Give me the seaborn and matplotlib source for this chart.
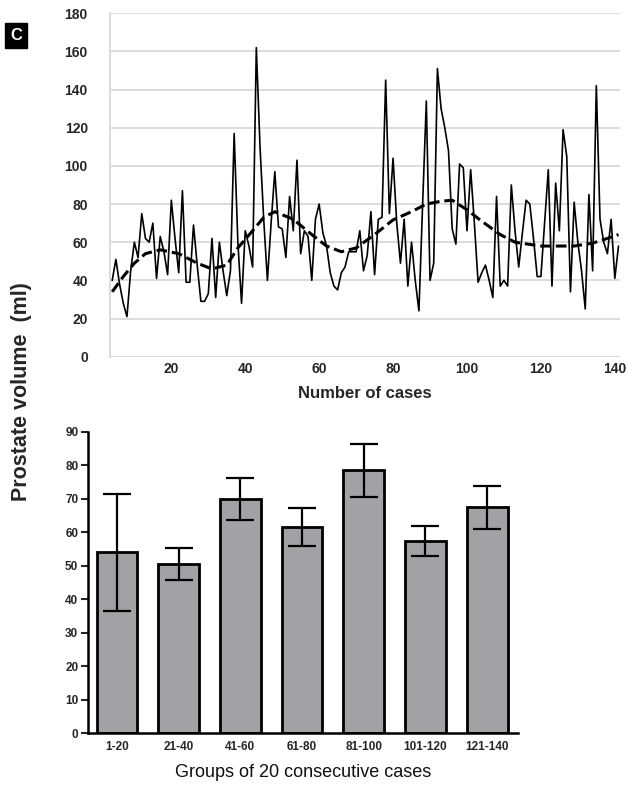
import numpy as np
import pandas as pd
import matplotlib
matplotlib.use('Agg')
import matplotlib.pyplot as plt
import seaborn as sns

# %%
# Dados
casos = list(range(4, 142))
volume = [40, 51, 38, 28, 21, 45, 60, 52, 75, 62, 60, 70, 41, 63, 55, 43, 82, 62, 44, 87,
          39, 39, 69, 48, 29, 29, 33, 62, 31, 60, 45, 32, 45, 117, 60, 28, 66, 58, 47, 162,
          110, 72, 40, 70, 97, 68, 67, 52, 84, 66, 103, 54, 66, 63, 40, 72, 80, 65, 58, 44,
          37, 35, 44, 47, 55, 55, 55, 66, 45, 53, 76, 43, 72, 73, 145, 75, 104, 70, 49, 72,
          37, 60, 40, 24, 80, 134, 40, 49, 151, 130, 120, 108, 67, 59, 101, 99, 66, 98, 70, 39,
          44, 48, 40, 31, 84, 37, 40, 37, 90, 66, 47, 65, 82, 80, 62, 42, 42, 70, 98, 37,
          91, 66, 119, 105, 34, 81, 60, 45, 25, 85, 45, 142, 72, 60, 54, 72, 41, 58]

trend_casos = [4, 7, 10, 13, 17, 22, 27, 31, 35, 38, 42, 45, 48, 53, 58, 62, 66, 70, 75, 80,
               85, 89, 93, 96, 100, 104, 109, 113, 120, 129, 134, 138, 141]
trend_vol = [34, 42, 49, 54, 56, 54, 49, 46, 48, 57, 66, 73, 76, 72, 64, 58, 55, 57, 64, 71.7,
             76, 80, 81.5, 82, 77, 71, 64, 60, 58, 58, 59.5, 62, 64]

grupos = ['1-20', '21-40', '41-60', '61-80', '81-100', '101-120', '121-140']
media = [54, 50.5, 70, 61.5, 78.5, 57.5, 67.5]
erro = [17.5, 4.7, 6.2, 5.7, 8, 4.5, 6.5]

df = pd.DataFrame({'caso': casos, 'volume': volume})
df_trend = pd.DataFrame({'caso': trend_casos, 'volume': trend_vol})
df_bar = pd.DataFrame({'grupo': grupos, 'media': media})

# %%
sns.set_style('white')
plt.rcParams['font.family'] = ['Liberation Sans', 'DejaVu Sans']

fig = plt.figure(figsize=(6.27, 7.87), dpi=100)
ax1 = fig.add_axes([0.1754, 0.5468, 0.8134, 0.4363])
ax2 = fig.add_axes([0.1404, 0.0686, 0.6858, 0.3825])

# Gráfico de linha
sns.lineplot(df, x='caso', y='volume', color='black', lw=1.2, ax=ax1)
sns.lineplot(df_trend, x='caso', y='volume', color='black', lw=2.2,
             linestyle=(0, (3.5, 1.6)), ax=ax1)
ax1.set_xlim(3.4, 141.4)
ax1.set_ylim(0, 180)
ax1.set_yticks(range(0, 181, 20))
ax1.set_xticks(range(20, 141, 20))
ax1.yaxis.grid(True, color='#dcdcdc', lw=1.4)
for s in ['top', 'right', 'bottom']:
    ax1.spines[s].set_visible(False)
ax1.spines['left'].set_color('#dcdcdc')
ax1.spines['left'].set_linewidth(1.4)
ax1.tick_params(length=0, labelsize=10, pad=16)
for t in ax1.get_xticklabels() + ax1.get_yticklabels():
    t.set_fontweight('bold')
ax1.tick_params(axis='x', pad=4)
ax1.set_xlabel('Number of cases', fontsize=12, fontweight='bold', labelpad=7)
ax1.set_ylabel('')

# Gráfico de barras
sns.barplot(df_bar, x='grupo', y='media', color='#a2a2a6', edgecolor='black',
            linewidth=2, width=0.66, saturation=1, ax=ax2)
ax2.errorbar(range(len(grupos)), media, yerr=erro, fmt='none', ecolor='black',
             elinewidth=1.6, capsize=10, capthick=1.6)
ax2.set_ylim(0, 90)
ax2.set_xlim(-0.47, 6.5)
ax2.set_yticks(range(0, 91, 10))
for s in ['top', 'right']:
    ax2.spines[s].set_visible(False)
for s in ['left', 'bottom']:
    ax2.spines[s].set_color('black')
    ax2.spines[s].set_linewidth(1.8)
ax2.tick_params(axis='y', length=5, width=1.5, labelsize=8.5, pad=2, left=True)
ax2.tick_params(axis='x', length=0, labelsize=8.5, pad=6)
for t in ax2.get_xticklabels() + ax2.get_yticklabels():
    t.set_fontweight('bold')
ax2.set_xlabel('Groups of 20 consecutive cases', fontsize=13, labelpad=8, color='#111111')
ax2.set_ylabel('')

fig.text(0.035, 0.502, 'Prostate volume  (ml)', rotation=90, ha='center', va='center',
         fontsize=15.5, fontweight='bold')
fig.text(0.026, 0.955, 'C', color='white', fontsize=12, fontweight='bold',
         ha='center', va='center',
         bbox=dict(facecolor='black', edgecolor='black', boxstyle='square,pad=0.3'))

fig.savefig('out.png', dpi=100)
